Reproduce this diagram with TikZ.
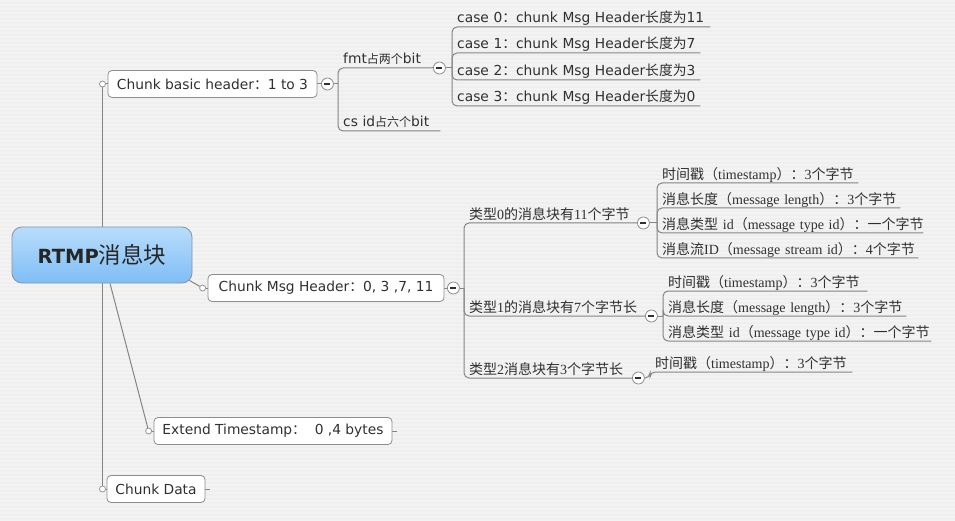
\documentclass[tikz,border=0pt]{standalone}
\usepackage{fontspec}
\setmainfont{DejaVu Sans}
\newfontfamily\cjk{Noto Sans CJK SC}
\newfontfamily\serifrm{Liberation Serif}
\newcommand\zh[1]{{\cjk #1}}
\newcommand\tx[1]{\mbox{\rule[-4.5pt]{0pt}{15pt}#1}}
\newcommand\sx[1]{\mbox{\rule[-3.5pt]{0pt}{15pt}#1}}
\definecolor{bgc}{HTML}{EFEFEF}
\definecolor{bgstripe}{HTML}{F3F3F3}
\definecolor{lineg}{HTML}{858585}
\definecolor{boxg}{HTML}{8C8C8C}
\definecolor{txt}{HTML}{303030}
\definecolor{roottop}{HTML}{B8DDFB}
\definecolor{rootbot}{HTML}{7FBDF5}
\definecolor{rootline}{HTML}{8494A4}
\pgfdeclarelayer{bg}
\pgfdeclarelayer{lines}
\pgfsetlayers{bg,lines,main}
\begin{document}
\begin{tikzpicture}[x=1pt,y=-1pt,
  conn/.style={draw=lineg, line width=1pt},
  branch/.style={conn, rounded corners=5pt},
  topic/.style={draw=boxg, fill=white, rounded corners=4pt, minimum height=27pt,
    inner sep=0pt, text=txt, font=\fontsize{13.8}{16}\selectfont, line width=0.8pt},
  rootnode/.style={draw=rootline, top color=roottop, bottom color=rootbot,
    rounded corners=10pt, minimum width=180pt, minimum height=56pt, inner sep=0pt,
    line width=0.8pt, text=black!85, font=\fontsize{19.5}{22}\selectfont\bfseries},
  dotnode/.style={circle, draw=boxg, fill=white, inner sep=0pt, minimum size=6pt, line width=0.7pt},
  minusnode/.style={circle, draw=boxg, fill=white, inner sep=0pt, minimum size=12pt, line width=0.8pt,
    path picture={\draw[txt, line width=1.1pt]
      ([xshift=-3pt]path picture bounding box.center) -- ([xshift=3pt]path picture bounding box.center);}},
  lbl/.style={anchor=south west, inner xsep=5pt, inner ysep=0pt, text width=#1, align=left,
    text=txt, font=\fontsize{13.8}{16}\selectfont},
  slbl/.style={anchor=south west, inner xsep=5pt, inner ysep=0pt, text width=#1, align=left,
    text=txt, font=\serifrm\fontsize{14}{16}\selectfont},
]
\useasboundingbox (0,0) rectangle (955,521);
\begin{pgfonlayer}{bg}
  \fill[bgc] (0,0) rectangle (955,521);
  \foreach \y in {0,4,...,520}
    \fill[bgstripe] (0,\y) rectangle (955,\y+2);
\end{pgfonlayer}

% root
\node[rootnode] (root) at (102,255) {RTMP\zh{\mdseries\fontsize{22.5}{24}\selectfont 消息块}};

% level 1 topics
\node[topic, minimum width=209pt] (cbh) at (212.5,84) {Chunk basic header\zh{：}1 to 3};
\node[topic, minimum width=236pt] (msg) at (326,288) {Chunk Msg Header\zh{：}0, 3 ,7, 11};
\node[topic, minimum width=238pt] (ext) at (273,431) {Extend Timestamp\zh{：}\ \ 0 ,4 bytes};
\node[topic, minimum width=98pt] (cd) at (156,489) {Chunk Data};

\node[dotnode] (d1) at (102.5,84) {};
\node[dotnode] (d2) at ([xshift=-5pt]msg.west) {};
\node[dotnode] (d3) at ([xshift=-5pt]ext.west) {};
\node[dotnode] (d4) at (102.5,489) {};
\node[minusnode] (m1) at ([xshift=10pt]cbh.east) {};
\node[minusnode] (m3) at ([xshift=9pt]msg.east) {};
\coordinate (extstub) at ([xshift=5pt]ext.east);
\coordinate (cdstub) at ([xshift=5pt]cd.east);

% basic header children
\node[lbl=84pt] (fmt) at (338,68) {\tx{fmt\zh{\fontsize{12}{14}\selectfont 占两个}bit}};
\node[lbl=92pt] (csid) at (338,131) {\tx{cs id\zh{\fontsize{12}{14}\selectfont 占六个}bit}};
\node[minusnode] (m2) at ([xshift=7pt]fmt.south east) {};

\node[lbl=248pt] (k0) at (452,27) {\tx{case 0\zh{：}chunk Msg Header\zh{长度为}11}};
\node[lbl=238pt] (k1) at (452,53) {\tx{case 1\zh{：}chunk Msg Header\zh{长度为}7}};
\node[lbl=238pt] (k2) at (452,80) {\tx{case 2\zh{：}chunk Msg Header\zh{长度为}3}};
\node[lbl=238pt] (k3) at (452,106) {\tx{case 3\zh{：}chunk Msg Header\zh{长度为}0}};

% msg header children
\node[slbl=163pt] (t0) at (464,223) {\sx{\zh{类型}0\zh{的消息块有}11\zh{个字节}}};
\node[slbl=171pt] (t1) at (464,316) {\sx{\zh{类型}1\zh{的消息块有}7\zh{个字节长}}};
\node[slbl=158pt] (t2) at (464,378) {\sx{\zh{类型}2\zh{消息块有}3\zh{个字节长}}};
\node[minusnode] (m4) at ([xshift=6pt]t0.south east) {};
\node[minusnode] (m5) at ([xshift=6pt]t1.south east) {};
\node[minusnode] (m6) at ([xshift=6pt]t2.south east) {};

\node[slbl=191pt] (a0) at (657,183) {\sx{\zh{时间戳（}timestamp\zh{）：}3\zh{个字节}}};
\node[slbl=233pt] (a1) at (657,208) {\sx{\zh{消息长度（}message length\zh{）：}3\zh{个字节}}};
\node[slbl=256pt] (a2) at (657,233) {\sx{\zh{消息类型} id\zh{（}message type id\zh{）：一个字节}}};
\node[slbl=251pt] (a3) at (657,258) {\sx{\zh{消息流}ID\zh{（}message stream id\zh{）：}4\zh{个字节}}};

\node[slbl=194pt] (b0) at (663,291) {\sx{\zh{时间戳（}timestamp\zh{）：}3\zh{个字节}}};
\node[slbl=233pt] (b1) at (663,316) {\sx{\zh{消息长度（}message length\zh{）：}3\zh{个字节}}};
\node[slbl=258pt] (b2) at (663,341) {\sx{\zh{消息类型} id\zh{（}message type id\zh{）：一个字节}}};

\node[slbl=192pt] (c0) at (650,372) {\sx{\zh{时间戳（}timestamp\zh{）：}3\zh{个字节}}};

\begin{pgfonlayer}{lines}
  % trunk and level 1 links
  \draw[conn] (d1.center) -- (d4.center);
  \draw[conn] ([xshift=-3pt,yshift=3pt]root.south east) -- (d2);
  \draw[conn] ([xshift=8pt]root.south) -- (d3);
  \draw[conn] (d1) -- (cbh.west);
  \draw[conn] (d2) -- (msg.west);
  \draw[conn] (d3) -- (ext.west);
  \draw[conn] (d4) -- (cd.west);
  \draw[conn] (cbh.east) -- (m1);
  \draw[conn] (msg.east) -- (m3);
  \draw[conn] (ext.east) -- (extstub);
  \draw[conn] (cd.east) -- (cdstub);
  % basic header branch
  \draw[conn] (m1.east) -- (m1.east -| fmt.south west);
  \foreach \c in {fmt,csid}
    \draw[branch] (m1.east -| fmt.south west) |- (\c.south east);
  \draw[conn] (fmt.south east) -- (m2);
  \draw[conn] (m2.east) -- (m2.east -| k0.south west);
  \foreach \c in {k0,k1,k2,k3}
    \draw[branch] (m2.east -| k0.south west) |- (\c.south east);
  % msg header branch
  \draw[conn] (m3.east) -- (m3.east -| t0.south west);
  \foreach \c in {t0,t1,t2}
    \draw[branch] (m3.east -| t0.south west) |- (\c.south east);
  \draw[conn] (m4.east) -- (m4.east -| a0.south west);
  \foreach \c in {a0,a1,a2,a3}
    \draw[branch] (m4.east -| a0.south west) |- (\c.south east);
  \draw[conn] (m5.east) -- (m5.east -| b0.south west);
  \foreach \c in {b0,b1,b2}
    \draw[branch] (m5.east -| b0.south west) |- (\c.south east);
  \draw[branch] (m6.east) -| (c0.south west) -- (c0.south east);
\end{pgfonlayer}
\end{tikzpicture}
\end{document}
